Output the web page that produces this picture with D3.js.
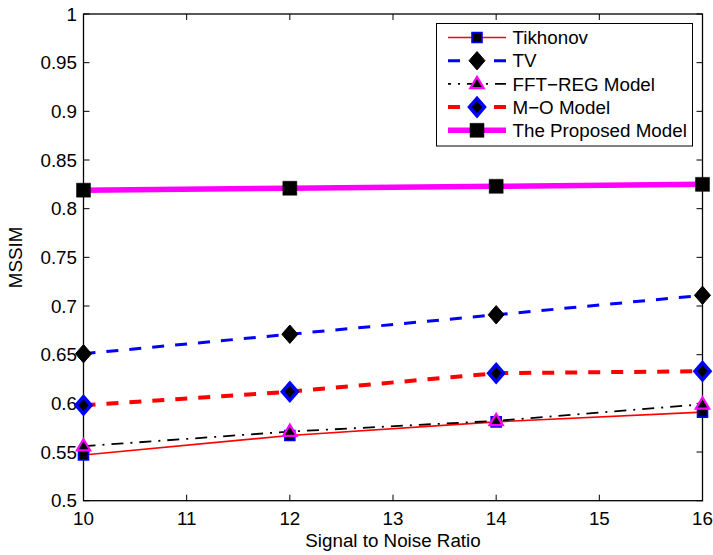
<!DOCTYPE html>
<html>
<head>
<meta charset="utf-8">
<script src="https://cdn.jsdelivr.net/npm/d3@7"></script>
<style>
  body { margin: 0; background: #fff; }
  text { font-family: "Liberation Sans", Arial, sans-serif; fill: #000; font-size: 18.8px; }
</style>
</head>
<body>
<svg width="713" height="555"></svg>
<script>
// data
var snr = [10, 12, 14, 16];
var tikhonov = [0.547, 0.567, 0.581, 0.591];
var tv = [0.651, 0.671, 0.691, 0.711];
var fftReg = [0.556, 0.571, 0.582, 0.599];
var moModel = [0.598, 0.612, 0.631, 0.633];
var proposed = [0.819, 0.821, 0.823, 0.825];
var xTicks = [10, 11, 12, 13, 14, 15, 16];
var yTicks = [0.5, 0.55, 0.6, 0.65, 0.7, 0.75, 0.8, 0.85, 0.9, 0.95, 1];
var seriesNames = ["Tikhonov", "TV", "FFT\u2212REG Model", "M\u2212O Model", "The Proposed Model"];

var svg = d3.select("svg");
var plotL = 83.5, plotR = 702.5, plotT = 14, plotB = 500.7;

var x = d3.scaleLinear().domain([10, 16]).range([plotL, plotR]);
var y = d3.scaleLinear().domain([0.5, 1]).range([plotB, plotT]);

var series = [
  { name: seriesNames[0], values: tikhonov, color: "#ff0000", width: 1.6, dash: null, off: 0,
    marker: "square", size: 10, fill: "#000", edge: "#0000ff", edgeW: 1.6 },
  { name: seriesNames[1], values: tv, color: "#0000ff", width: 3, dash: "12,11", off: 0,
    marker: "diamond", size: 8, fill: "#000", edge: "#000", edgeW: 1 },
  { name: seriesNames[2], values: fftReg, color: "#000", width: 1.8, dash: "12,7,2,7", off: 9,
    marker: "triangle", size: 7, fill: "#000", edge: "#ff00ff", edgeW: 2.2 },
  { name: seriesNames[3], values: moModel, color: "#ff0000", width: 4, dash: "12,11", off: 0,
    marker: "diamond", size: 7.5, fill: "#000", edge: "#0000ff", edgeW: 3.5 },
  { name: seriesNames[4], values: proposed, color: "#ff00ff", width: 5.5, dash: null, off: 0,
    marker: "square", size: 14, fill: "#000", edge: "#000", edgeW: 0.5 }
];

function markerPath(type, s) {
  if (type == "square") return "M" + (-s/2) + "," + (-s/2) + "h" + s + "v" + s + "h" + (-s) + "Z";
  if (type == "diamond") return "M0," + (-s*1.15) + "L" + s + ",0L0," + (s*1.15) + "L" + (-s) + ",0Z";
  if (type == "triangle") return "M0," + (-s) + "L" + (s*0.95) + "," + (s*0.6) + "L" + (-s*0.95) + "," + (s*0.6) + "Z";
}

// axes box
var g = svg.append("g");
g.append("rect")
  .attr("x", plotL).attr("y", plotT)
  .attr("width", plotR - plotL).attr("height", plotB - plotT)
  .attr("fill", "none").attr("stroke", "#000").attr("stroke-width", 1.3);

// inward ticks on all four sides
xTicks.forEach(function (t) {
  g.append("line").attr("x1", x(t)).attr("x2", x(t)).attr("y1", plotB).attr("y2", plotB - 6)
    .attr("stroke", "#000");
  g.append("line").attr("x1", x(t)).attr("x2", x(t)).attr("y1", plotT).attr("y2", plotT + 6)
    .attr("stroke", "#000");
  g.append("text").attr("x", x(t)).attr("y", 525)
    .attr("text-anchor", "middle").text(t);
});
yTicks.forEach(function (t) {
  g.append("line").attr("x1", plotL).attr("x2", plotL + 6).attr("y1", y(t)).attr("y2", y(t))
    .attr("stroke", "#000");
  g.append("line").attr("x1", plotR).attr("x2", plotR - 6).attr("y1", y(t)).attr("y2", y(t))
    .attr("stroke", "#000");
  g.append("text").attr("x", 77).attr("y", y(t)).attr("dy", "0.36em")
    .attr("text-anchor", "end").text(t);
});

svg.append("text").attr("x", (plotL + plotR) / 2).attr("y", 547)
  .attr("text-anchor", "middle").text("Signal to Noise Ratio");
svg.append("text").attr("transform", "translate(22," + ((plotT + plotB) / 2) + ") rotate(-90)")
  .attr("text-anchor", "middle").text("MSSIM");

// lines and markers
var line = d3.line().x(function (d, i) { return x(snr[i]); }).y(function (d) { return y(d); });

series.forEach(function (s) {
  svg.append("path")
    .datum(s.values)
    .attr("d", line)
    .attr("fill", "none")
    .attr("stroke", s.color)
    .attr("stroke-width", s.width)
    .attr("stroke-dasharray", s.dash);
  svg.selectAll(null)
    .data(s.values)
    .enter()
    .append("path")
    .attr("d", markerPath(s.marker, s.size))
    .attr("transform", function (d, i) { return "translate(" + x(snr[i]) + "," + y(d) + ")"; })
    .attr("fill", s.fill)
    .attr("stroke", s.edge)
    .attr("stroke-width", s.edgeW);
});

// legend
var lg = svg.append("g");
lg.append("rect").attr("x", 436.5).attr("y", 23.5).attr("width", 256).attr("height", 122.5)
  .attr("fill", "#fff").attr("stroke", "#000").attr("stroke-width", 1);
series.forEach(function (s, i) {
  var yy = 37.5 + i * 23.2;
  lg.append("line").attr("x1", 448).attr("x2", 506).attr("y1", yy).attr("y2", yy)
    .attr("stroke", s.color).attr("stroke-width", s.width)
    .attr("stroke-dasharray", s.dash).attr("stroke-dashoffset", s.off);
  lg.append("path").attr("d", markerPath(s.marker, s.size))
    .attr("transform", "translate(477," + yy + ")")
    .attr("fill", s.fill).attr("stroke", s.edge).attr("stroke-width", s.edgeW);
  lg.append("text").attr("x", 512.5).attr("y", yy).attr("dy", "0.36em")
    .text(s.name);
});
</script>
</body>
</html>
